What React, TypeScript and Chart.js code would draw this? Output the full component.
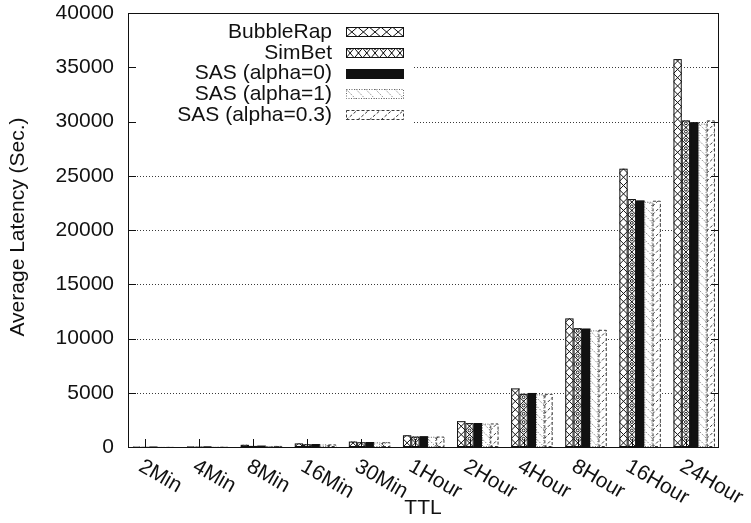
import React, { useEffect, useRef } from 'react';
import { Chart, registerables } from 'chart.js';

Chart.register(...registerables);

// TTL settings on the x axis
const categories = ['2Min', '4Min', '8Min', '16Min', '30Min', '1Hour', '2Hour', '4Hour', '8Hour', '16Hour', '24Hour'];

// Series names, in legend order
const seriesLabels = ['BubbleRap', 'SimBet', 'SAS (alpha=0)', 'SAS (alpha=1)', 'SAS (alpha=0.3)'];

// Average latency in seconds for each TTL
const bubbleRap = [15, 30, 200, 330, 500, 1080, 2380, 5400, 11850, 25650, 35750];
const simBet = [10, 20, 100, 250, 440, 960, 2200, 4900, 10950, 22850, 30100];
const sasAlpha0 = [10, 20, 100, 240, 430, 960, 2180, 4950, 10880, 22700, 29900];
const sasAlpha1 = [10, 18, 95, 230, 420, 940, 2150, 4850, 10750, 22600, 29800];
const sasAlpha03 = [10, 20, 100, 240, 440, 960, 2170, 4900, 10800, 22700, 30100];

// y axis range and tick step
const yMax = 40000;
const yStep = 5000;

const FONT = '"Liberation Sans", Arial, Helvetica, sans-serif';
const FONT_SIZE = 21;
const TEXT = '#111';

type Kind = 'cross' | 'diamond' | 'solid' | 'back' | 'fwd';
type Look = { kind: Kind; stroke: string; dash: number[]; base: string };

const looks: Look[] = [
  { kind: 'cross', stroke: '#111', dash: [], base: '#fff' },
  { kind: 'diamond', stroke: '#111', dash: [], base: '#fff' },
  { kind: 'solid', stroke: '#111', dash: [], base: '#111' },
  { kind: 'back', stroke: '#666', dash: [1, 1.5], base: '#fff' },
  { kind: 'fwd', stroke: '#3a3a3a', dash: [3, 2], base: '#fff' },
];

const BAR_W = 8.3;

// Fill a rectangle with one of the hatch styles; cells run from the bottom-left corner.
function hatch(ctx: CanvasRenderingContext2D, look: Look, x: number, top: number, w: number, h: number, pw: number, ph: number) {
  ctx.save();
  ctx.beginPath();
  ctx.rect(x, top, w, h);
  ctx.clip();
  ctx.fillStyle = look.base;
  ctx.fillRect(x, top, w, h);
  if (look.kind !== 'solid') {
    const bottom = top + h;
    ctx.lineWidth = 1;
    ctx.strokeStyle = look.stroke;
    ctx.fillStyle = look.stroke;
    if (look.kind === 'back') ctx.setLineDash([1, 1.5]);
    if (look.kind === 'fwd') ctx.setLineDash([3, 2]);
    const cols = Math.ceil(w / pw) + 1;
    const rows = Math.ceil(h / ph) + 1;
    for (let j = 0; j < cols; j++) {
      const cx = x + j * pw;
      for (let k = 0; k < rows; k++) {
        const cy = bottom - k * ph;
        ctx.beginPath();
        if (look.kind === 'cross' || look.kind === 'diamond') {
          ctx.moveTo(cx, cy);
          ctx.lineTo(cx + pw, cy - ph);
          ctx.moveTo(cx, cy - ph);
          ctx.lineTo(cx + pw, cy);
        } else if (look.kind === 'back') {
          ctx.moveTo(cx, cy - ph);
          ctx.lineTo(cx + pw, cy);
        } else {
          ctx.moveTo(cx, cy);
          ctx.lineTo(cx + pw, cy - ph);
        }
        ctx.stroke();
        if (look.kind === 'diamond') {
          ctx.beginPath();
          ctx.arc(cx + pw / 2, cy - ph, 1.4, 0, Math.PI * 2);
          ctx.stroke();
          ctx.beginPath();
          ctx.arc(cx + pw / 2, cy - ph / 2, 0.8, 0, Math.PI * 2);
          ctx.fill();
        }
      }
    }
  }
  ctx.restore();
  // outline
  ctx.save();
  ctx.strokeStyle = look.stroke;
  ctx.lineWidth = 1;
  ctx.setLineDash(look.dash);
  ctx.strokeRect(x + 0.5, top + 0.5, Math.max(w - 1, 0), Math.max(h - 1, 0));
  ctx.restore();
}

// Legend placement
const LEG_TEXT_RIGHT = 332;
const LEG_SAMPLE_X = 346;
const LEG_SAMPLE_W = 58;
const LEG_SAMPLE_H = 10;
const LEG_ROW0 = 32;
const LEG_ROW_GAP = 20.8;
const LEG_CLEAR_RIGHT = 414;
const LEG_CLEAR_BOTTOM = 130;
const legendCells = [11.6, 8.3, 10, 9.7, 11.6];

const paperStyle = {
  id: 'paperStyle',
  beforeDatasetsDraw(chart: any) {
    const { ctx, chartArea: a, scales } = chart;
    const y = scales.y;
    ctx.save();
    ctx.strokeStyle = '#3a3a3a';
    ctx.lineWidth = 1;
    ctx.setLineDash([1, 2]);
    for (let v = yStep; v < yMax; v += yStep) {
      const py = Math.round(y.getPixelForValue(v)) + 0.5;
      const x0 = py < LEG_CLEAR_BOTTOM ? LEG_CLEAR_RIGHT : a.left;
      ctx.beginPath();
      ctx.moveTo(x0, py);
      ctx.lineTo(a.right, py);
      ctx.stroke();
    }
    ctx.restore();
  },
  afterDatasetsDraw(chart: any) {
    const { ctx, chartArea: a, scales } = chart;
    const y = scales.y;
    const x = scales.x;

    // patterned bars, using the geometry Chart.js computed
    chart.data.datasets.forEach((_: any, di: number) => {
      const meta = chart.getDatasetMeta(di);
      const look = looks[di];
      meta.data.forEach((el: any) => {
        const p = el.getProps(['x', 'y', 'base', 'width'], true);
        const left = p.x - p.width / 2;
        const top = Math.min(p.y, p.base);
        const h = Math.max(Math.abs(p.base - p.y), 1);
        hatch(ctx, look, left, top, p.width, h, p.width, p.width);
      });
    });

    ctx.save();
    // frame
    ctx.strokeStyle = '#111';
    ctx.lineWidth = 1;
    ctx.strokeRect(Math.round(a.left) + 0.5, Math.round(a.top) + 0.5, Math.round(a.right - a.left) - 1, Math.round(a.bottom - a.top));

    // y ticks on both sides, pointing inward
    for (let v = 0; v <= yMax; v += yStep) {
      const py = Math.round(y.getPixelForValue(v)) + 0.5;
      ctx.beginPath();
      ctx.moveTo(a.left, py);
      ctx.lineTo(a.left + 8, py);
      ctx.moveTo(a.right - 8, py);
      ctx.lineTo(a.right, py);
      ctx.stroke();
    }

    // x ticks and rotated labels
    ctx.font = `${FONT_SIZE}px ${FONT}`;
    ctx.fillStyle = TEXT;
    categories.forEach((label, i) => {
      const tx = Math.round(x.getPixelForValue(i) - BAR_W) + 0.5;
      ctx.beginPath();
      ctx.moveTo(tx, a.bottom);
      ctx.lineTo(tx, a.bottom - 8);
      ctx.stroke();
      ctx.save();
      ctx.translate(tx - 5, a.bottom + 18);
      ctx.rotate(Math.PI / 6);
      ctx.textAlign = 'left';
      ctx.textBaseline = 'middle';
      ctx.fillText(label, 0, 0);
      ctx.restore();
    });

    // axis titles
    ctx.textAlign = 'center';
    ctx.textBaseline = 'middle';
    ctx.fillText('TTL', (a.left + a.right) / 2 - 0.5, 508);
    ctx.save();
    ctx.translate(18, 227);
    ctx.rotate(-Math.PI / 2);
    ctx.fillText('Average Latency (Sec.)', 0, 0);
    ctx.restore();

    // legend
    seriesLabels.forEach((name, i) => {
      const ry = LEG_ROW0 + i * LEG_ROW_GAP;
      ctx.textAlign = 'right';
      ctx.textBaseline = 'middle';
      ctx.fillStyle = TEXT;
      ctx.fillText(name, LEG_TEXT_RIGHT, ry);
      const top = Math.round(ry - LEG_SAMPLE_H / 2);
      hatch(ctx, looks[i], LEG_SAMPLE_X, top, LEG_SAMPLE_W, LEG_SAMPLE_H, legendCells[i], LEG_SAMPLE_H);
    });
    ctx.restore();
  },
};

export default function App() {
  const ref = useRef<HTMLCanvasElement | null>(null);

  useEffect(() => {
    document.body.style.margin = '0';
    const canvas = ref.current;
    if (!canvas) return;
    const series = [bubbleRap, simBet, sasAlpha0, sasAlpha1, sasAlpha03];
    const chart = new Chart(canvas, {
      type: 'bar',
      data: {
        datasets: series.map((vals, i) => ({
          label: seriesLabels[i],
          data: vals.map((v, k) => ({ x: k, y: v })),
          backgroundColor: looks[i].base,
          borderWidth: 0,
          barThickness: BAR_W,
        })),
      },
      options: {
        animation: false,
        responsive: false,
        devicePixelRatio: 1,
        layout: { padding: { top: 13, right: 32, left: 0, bottom: 0 } },
        plugins: { legend: { display: false }, tooltip: { enabled: false } },
        scales: {
          x: {
            type: 'linear',
            min: -0.4658,
            max: 10.4584,
            offset: false,
            grid: { display: false },
            border: { display: false },
            ticks: { display: false, stepSize: 1, includeBounds: false },
            afterFit: (s: any) => { s.height = 76; s.paddingLeft = 0; s.paddingRight = 0; },
          },
          y: {
            min: 0,
            max: yMax,
            grid: { display: false, drawTicks: false },
            border: { display: false },
            ticks: {
              stepSize: yStep,
              padding: 14,
              color: TEXT,
              font: { family: FONT, size: FONT_SIZE },
              callback: (v: any) => String(v),
            },
            afterFit: (s: any) => { s.width = 128; s.paddingTop = 0; s.paddingBottom = 0; },
          },
        },
      },
      plugins: [paperStyle],
    });
    return () => chart.destroy();
  }, []);

  return (
    <div style={{ position: 'absolute', left: 0, top: 0, width: 751, height: 523, background: '#fff' }}>
      <canvas ref={ref} width={751} height={523} />
    </div>
  );
}
